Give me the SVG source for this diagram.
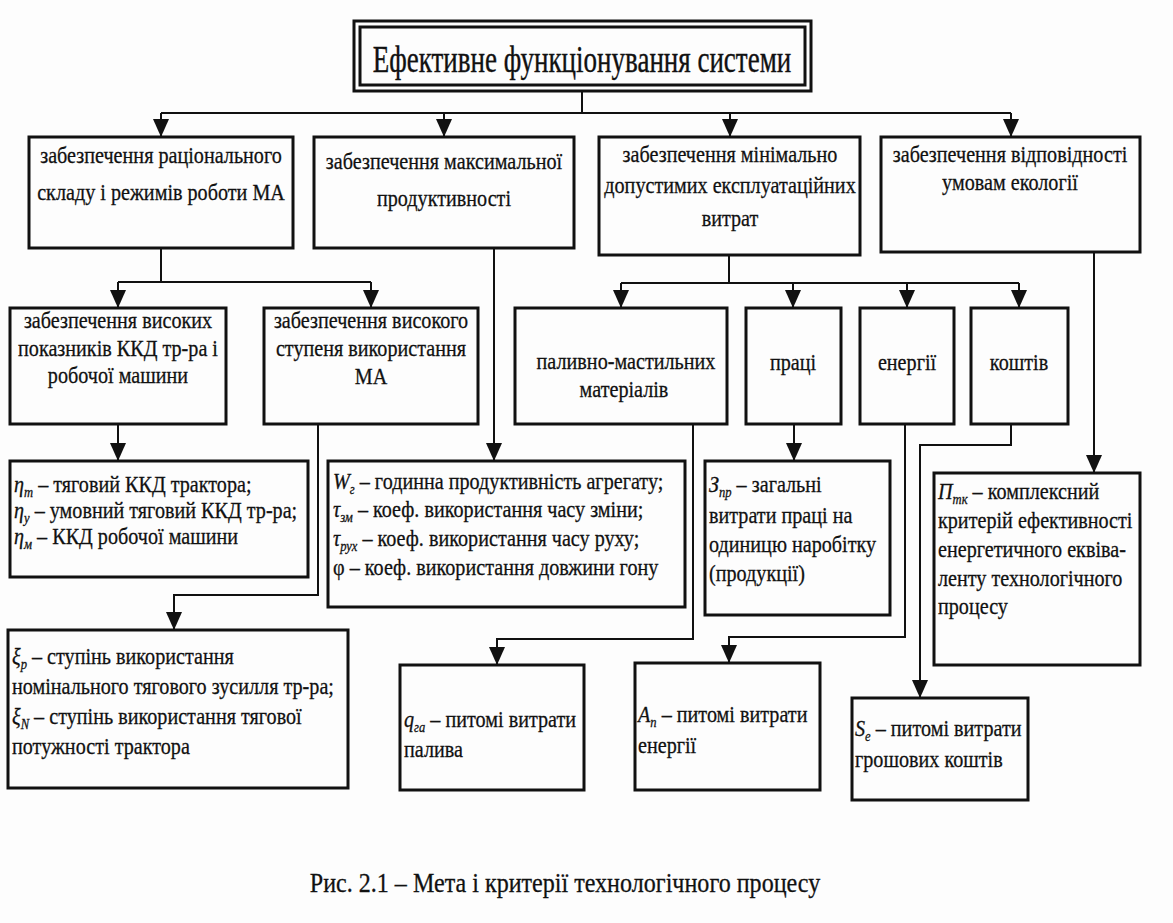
<svg xmlns="http://www.w3.org/2000/svg" width="1173" height="923" viewBox="0 0 1173 923">
<style>
.t{font-family:"Liberation Serif","Times New Roman",serif;font-size:24px;fill:#111;stroke:#111;stroke-width:0.3}
.m{text-anchor:middle}
.ti{font-size:37px;stroke-width:0.4}
.cap{font-size:28px}
.i{font-style:italic}
.s{font-size:15px;font-style:italic}
.box{fill:none;stroke:#111;stroke-width:3}
.c{fill:none;stroke:#111;stroke-width:2}
</style>
<defs>
<marker id="a" markerUnits="userSpaceOnUse" markerWidth="18" markerHeight="16" refX="18" refY="8" orient="auto">
<path d="M0,0 L18,8 L0,16 z" fill="#111"/>
</marker>
</defs>
<rect width="1173" height="923" fill="#fdfdfd"/>

<g id="connectors">
<path class="c" d="M582,91 V113 M161,113 H1011"/>
<path class="c" d="M161,113 V137" marker-end="url(#a)"/>
<path class="c" d="M444,113 V137" marker-end="url(#a)"/>
<path class="c" d="M730,113 V137" marker-end="url(#a)"/>
<path class="c" d="M1011,113 V137" marker-end="url(#a)"/>
<path class="c" d="M161,248 V282 M118,282 H371"/>
<path class="c" d="M118,282 V308" marker-end="url(#a)"/>
<path class="c" d="M371,282 V308" marker-end="url(#a)"/>
<path class="c" d="M494,248 V461" marker-end="url(#a)"/>
<path class="c" d="M729,255 V283 M621,283 H1019"/>
<path class="c" d="M621,283 V308" marker-end="url(#a)"/>
<path class="c" d="M793,283 V308" marker-end="url(#a)"/>
<path class="c" d="M907,283 V308" marker-end="url(#a)"/>
<path class="c" d="M1019,283 V308" marker-end="url(#a)"/>
<path class="c" d="M1094,252 V473" marker-end="url(#a)"/>
<path class="c" d="M118,424 V461" marker-end="url(#a)"/>
<path class="c" d="M318,424 V595 H174 V630" marker-end="url(#a)"/>
<path class="c" d="M693,424 V639 H497 V665" marker-end="url(#a)"/>
<path class="c" d="M794,424 V461" marker-end="url(#a)"/>
<path class="c" d="M905,424 V637 H729 V663" marker-end="url(#a)"/>
<path class="c" d="M1011,424 V445 H920 V698" marker-end="url(#a)"/>
</g>

<g id="title">
<rect class="box" x="354" y="21" width="457" height="70"/>
<rect class="box" x="360" y="27" width="445" height="58"/>
<text class="t m ti" transform="matrix(0.73 0 0 1 582 72)">Ефективне функціонування системи</text>
</g>

<g id="n-rational">
<rect class="box" x="29" y="137" width="264" height="111"/>
<text class="t m" transform="matrix(0.84 0 0 1 161 163)">забезпечення раціонального</text>
<text class="t m" transform="matrix(0.84 0 0 1 161 200)">складу і режимів роботи МА</text>
</g>
<g id="n-productivity">
<rect class="box" x="314" y="137" width="260" height="111"/>
<text class="t m" transform="matrix(0.84 0 0 1 444 169)">забезпечення максимальної</text>
<text class="t m" transform="matrix(0.84 0 0 1 444 206)">продуктивності</text>
</g>
<g id="n-costs">
<rect class="box" x="599" y="137" width="261" height="118"/>
<text class="t m" transform="matrix(0.84 0 0 1 730 162)">забезпечення мінімально</text>
<text class="t m" transform="matrix(0.84 0 0 1 730 193)">допустимих експлуатаційних</text>
<text class="t m" transform="matrix(0.84 0 0 1 730 226)">витрат</text>
</g>
<g id="n-ecology">
<rect class="box" x="881" y="137" width="259" height="115"/>
<text class="t m" transform="matrix(0.84 0 0 1 1010 162)">забезпечення відповідності</text>
<text class="t m" transform="matrix(0.84 0 0 1 1010 190)">умовам екології</text>
</g>

<g id="n-efficiency">
<rect class="box" x="10" y="308" width="216" height="116"/>
<text class="t m" transform="matrix(0.84 0 0 1 118 328)">забезпечення високих</text>
<text class="t m" transform="matrix(0.84 0 0 1 118 356)">показників ККД тр-ра і</text>
<text class="t m" transform="matrix(0.84 0 0 1 118 383)">робочої машини</text>
</g>
<g id="n-usage">
<rect class="box" x="264" y="308" width="214" height="116"/>
<text class="t m" transform="matrix(0.84 0 0 1 371 328)">забезпечення високого</text>
<text class="t m" transform="matrix(0.84 0 0 1 371 356)">ступеня використання</text>
<text class="t m" transform="matrix(0.84 0 0 1 371 384)">МА</text>
</g>
<g id="n-fuel">
<rect class="box" x="515" y="308" width="212" height="116"/>
<text class="t m" transform="matrix(0.84 0 0 1 626 369)">паливно-мастильних</text>
<text class="t m" transform="matrix(0.84 0 0 1 624 397)">матеріалів</text>
</g>
<g id="n-labour">
<rect class="box" x="746" y="308" width="95" height="116"/>
<text class="t m" transform="matrix(0.84 0 0 1 793 370)">праці</text>
</g>
<g id="n-energy">
<rect class="box" x="860" y="308" width="94" height="116"/>
<text class="t m" transform="matrix(0.84 0 0 1 907 370)">енергії</text>
</g>
<g id="n-money">
<rect class="box" x="971" y="308" width="97" height="116"/>
<text class="t m" transform="matrix(0.84 0 0 1 1019 370)">коштів</text>
</g>

<g id="n-eta">
<rect class="box" x="10" y="461" width="298" height="116"/>
<text class="t" transform="matrix(0.84 0 0 1 14 492)"><tspan class="i">η</tspan><tspan class="s" dy="5">т</tspan><tspan dy="-5"> – тяговий ККД трактора;</tspan></text>
<text class="t" transform="matrix(0.84 0 0 1 14 518)"><tspan class="i">η</tspan><tspan class="s" dy="5">у</tspan><tspan dy="-5"> – умовний тяговий ККД тр-ра;</tspan></text>
<text class="t" transform="matrix(0.84 0 0 1 14 544)"><tspan class="i">η</tspan><tspan class="s" dy="5">м</tspan><tspan dy="-5"> – ККД робочої машини</tspan></text>
</g>
<g id="n-w">
<rect class="box" x="328" y="461" width="357" height="146"/>
<text class="t" transform="matrix(0.84 0 0 1 333 489)"><tspan class="i">W</tspan><tspan class="s" dy="5">г</tspan><tspan dy="-5"> – годинна продуктивність агрегату;</tspan></text>
<text class="t" transform="matrix(0.84 0 0 1 333 517)"><tspan class="i">τ</tspan><tspan class="s" dy="5">зм</tspan><tspan dy="-5"> – коеф. використання часу зміни;</tspan></text>
<text class="t" transform="matrix(0.84 0 0 1 333 546)"><tspan class="i">τ</tspan><tspan class="s" dy="5">рух</tspan><tspan dy="-5"> – коеф. використання часу руху;</tspan></text>
<text class="t" transform="matrix(0.84 0 0 1 333 575)">φ – коеф. використання довжини гону</text>
</g>
<g id="n-z">
<rect class="box" x="705" y="461" width="185" height="154"/>
<text class="t" transform="matrix(0.84 0 0 1 709 492)"><tspan class="i">З</tspan><tspan class="s" dy="5">пр</tspan><tspan dy="-5"> – загальні</tspan></text>
<text class="t" transform="matrix(0.84 0 0 1 709 523)">витрати праці на</text>
<text class="t" transform="matrix(0.84 0 0 1 709 552)">одиницю наробітку</text>
<text class="t" transform="matrix(0.84 0 0 1 709 581)">(продукції)</text>
</g>
<g id="n-p">
<rect class="box" x="934" y="473" width="206" height="192"/>
<text class="t" transform="matrix(0.84 0 0 1 938 499)"><tspan class="i">П</tspan><tspan class="s" dy="5">тк</tspan><tspan dy="-5"> – комплексний</tspan></text>
<text class="t" transform="matrix(0.84 0 0 1 938 528)">критерій ефективності</text>
<text class="t" transform="matrix(0.84 0 0 1 938 557)">енергетичного еквіва-</text>
<text class="t" transform="matrix(0.84 0 0 1 938 586)">ленту технологічного</text>
<text class="t" transform="matrix(0.84 0 0 1 938 614)">процесу</text>
</g>

<g id="n-xi">
<rect class="box" x="8" y="630" width="340" height="158"/>
<text class="t" transform="matrix(0.84 0 0 1 12 664)"><tspan class="i">ξ</tspan><tspan class="s" dy="5">р</tspan><tspan dy="-5"> – ступінь використання</tspan></text>
<text class="t" transform="matrix(0.84 0 0 1 12 694)">номінального тягового зусилля тр-ра;</text>
<text class="t" transform="matrix(0.84 0 0 1 12 724)"><tspan class="i">ξ</tspan><tspan class="s" dy="5">N</tspan><tspan dy="-5"> – ступінь використання тягової</tspan></text>
<text class="t" transform="matrix(0.84 0 0 1 12 754)">потужності трактора</text>
</g>
<g id="n-q">
<rect class="box" x="400" y="665" width="184" height="125"/>
<text class="t" transform="matrix(0.84 0 0 1 404 727)"><tspan class="i">q</tspan><tspan class="s" dy="5">га</tspan><tspan dy="-5"> – питомі витрати</tspan></text>
<text class="t" transform="matrix(0.84 0 0 1 404 757)">палива</text>
</g>
<g id="n-a">
<rect class="box" x="635" y="663" width="185" height="127"/>
<text class="t" transform="matrix(0.84 0 0 1 638 722)"><tspan class="i">А</tspan><tspan class="s" dy="5">п</tspan><tspan dy="-5"> – питомі витрати</tspan></text>
<text class="t" transform="matrix(0.84 0 0 1 638 753)">енергії</text>
</g>
<g id="n-s">
<rect class="box" x="852" y="698" width="176" height="102"/>
<text class="t" transform="matrix(0.84 0 0 1 855 736)"><tspan class="i">S</tspan><tspan class="s" dy="5">е</tspan><tspan dy="-5"> – питомі витрати</tspan></text>
<text class="t" transform="matrix(0.84 0 0 1 855 767)">грошових коштів</text>
</g>

<g id="caption">
<text class="t m cap" transform="matrix(0.86 0 0 1 565 892)">Рис. 2.1 – Мета і критерії технологічного процесу</text>
</g>
</svg>
